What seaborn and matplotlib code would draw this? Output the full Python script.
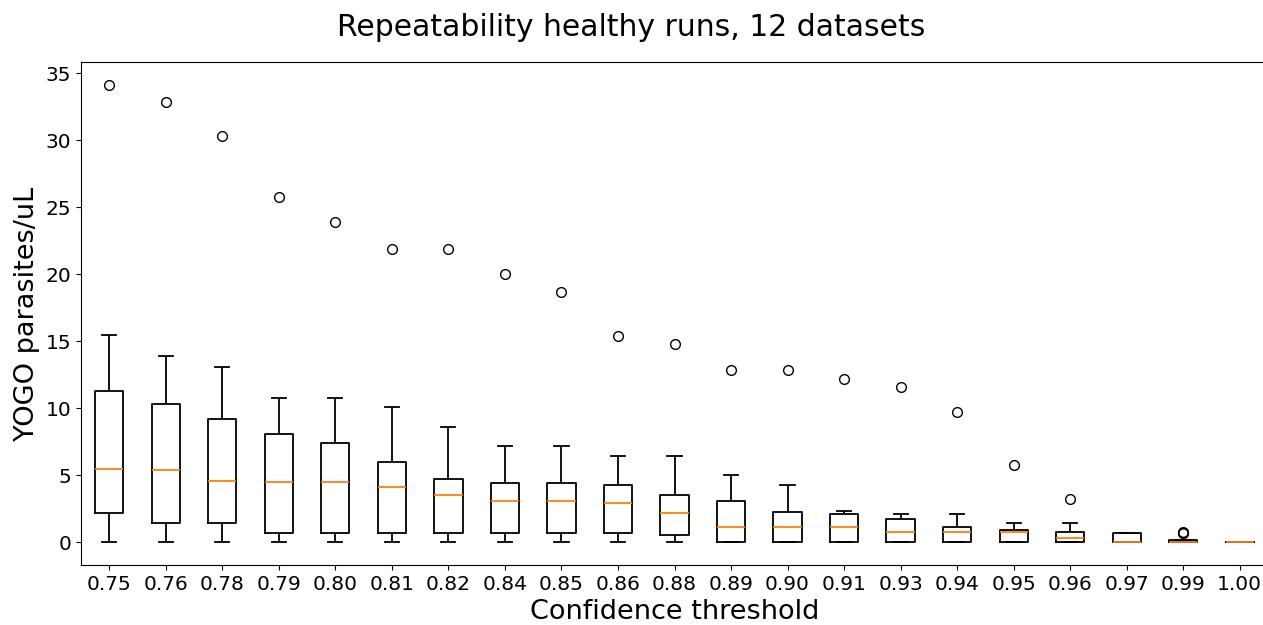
import pandas as pd
import matplotlib
matplotlib.use("Agg")
import matplotlib.pyplot as plt
import seaborn as sns

# confidence thresholds (x categories)
thresholds = ["0.75", "0.76", "0.78", "0.79", "0.80", "0.81", "0.82", "0.84",
              "0.85", "0.86", "0.88", "0.89", "0.90", "0.91", "0.93", "0.94",
              "0.95", "0.96", "0.97", "0.99", "1.00"]

# YOGO parasites/uL, 12 datasets per threshold
t075 = [0, 1.4, 2.2, 2.2, 3.5, 5.5, 5.5, 8.0, 11.3, 11.3, 15.5, 34.1]
t076 = [0, 0.7, 1.4, 1.4, 3.0, 5.4, 5.4, 7.5, 10.3, 10.3, 13.9, 32.9]
t078 = [0, 0.7, 1.4, 1.4, 2.8, 4.6, 4.6, 6.9, 9.2, 9.2, 13.1, 30.3]
t079 = [0, 0.7, 0.7, 0.7, 2.1, 4.5, 4.5, 6.2, 8.1, 8.1, 10.8, 25.8]
t080 = [0, 0.7, 0.7, 0.7, 2.1, 4.5, 4.5, 5.5, 7.4, 7.4, 10.8, 23.9]
t081 = [0, 0.7, 0.7, 0.7, 2.1, 4.1, 4.1, 5.5, 6.0, 6.0, 10.1, 21.9]
t082 = [0, 0.7, 0.7, 0.7, 2.1, 3.5, 3.5, 4.1, 4.7, 4.7, 8.6, 21.9]
t084 = [0, 0.7, 0.7, 0.7, 2.1, 3.1, 3.1, 3.8, 4.4, 4.4, 7.2, 20.0]
t085 = [0, 0.7, 0.7, 0.7, 2.1, 3.1, 3.1, 3.8, 4.4, 4.4, 7.2, 18.7]
t086 = [0, 0.7, 0.7, 0.7, 2.1, 2.9, 2.9, 3.5, 4.25, 4.25, 6.4, 15.4]
t088 = [0, 0, 0, 0.7, 1.4, 2.2, 2.2, 2.8, 3.5, 3.5, 6.4, 14.8]
t089 = [0, 0, 0, 0, 0.7, 1.1, 1.1, 2.1, 3.1, 3.1, 5.0, 12.85]
t090 = [0, 0, 0, 0, 0.7, 1.1, 1.1, 1.4, 2.25, 2.25, 4.3, 12.85]
t091 = [0, 0, 0, 0, 0.7, 1.1, 1.1, 1.4, 2.1, 2.1, 2.3, 12.2]
t093 = [0, 0, 0, 0, 0.7, 0.75, 0.75, 1.4, 1.7, 1.7, 2.1, 11.6]
t094 = [0, 0, 0, 0, 0.7, 0.75, 0.75, 0.8, 1.1, 1.1, 2.1, 9.7]
t095 = [0, 0, 0, 0, 0.7, 0.75, 0.75, 0.8, 0.9, 0.9, 1.4, 5.75]
t096 = [0, 0, 0, 0, 0, 0, 0.7, 0.7, 0.75, 0.75, 1.4, 3.2]
t097 = [0, 0, 0, 0, 0, 0, 0, 0, 0.7, 0.7, 0.7, 0.7]
t099 = [0, 0, 0, 0, 0, 0, 0, 0, 0, 0.66, 0.7, 0.74]
t100 = [0, 0, 0, 0, 0, 0, 0, 0, 0, 0, 0, 0]

runs = [t075, t076, t078, t079, t080, t081, t082, t084, t085, t086, t088,
        t089, t090, t091, t093, t094, t095, t096, t097, t099, t100]

rows = []
for thr, vals in zip(thresholds, runs):
    for v in vals:
        rows.append({"threshold": thr, "value": v})
df = pd.DataFrame(rows)

fig = plt.figure(figsize=(12.63, 6.25), dpi=100)
ax = fig.add_axes([81 / 1263, 1 - 565 / 625, (1268 - 81) / 1263, (565 - 62) / 625])

sns.boxplot(data=df, x="threshold", y="value", order=thresholds, ax=ax,
            fill=False, color="black", width=0.5, linewidth=1.3, whis=1.5,
            medianprops=dict(color="#ff7f0e", zorder=5),
            flierprops=dict(marker="o", markerfacecolor="none",
                            markeredgecolor="black", markersize=7))

ax.set_xlim(-0.5, 20.5)
ax.set_ylim(-1.7, 35.85)
ax.set_yticks([0, 5, 10, 15, 20, 25, 30, 35])
ax.tick_params(labelsize=14.5)
ax.set_xlabel("Confidence threshold", fontsize=19.5)
ax.set_ylabel("YOGO parasites/uL", fontsize=19.5)
fig.suptitle("Repeatability healthy runs, 12 datasets", fontsize=21.5, y=0.98)

fig.savefig("out.png", dpi=100)
